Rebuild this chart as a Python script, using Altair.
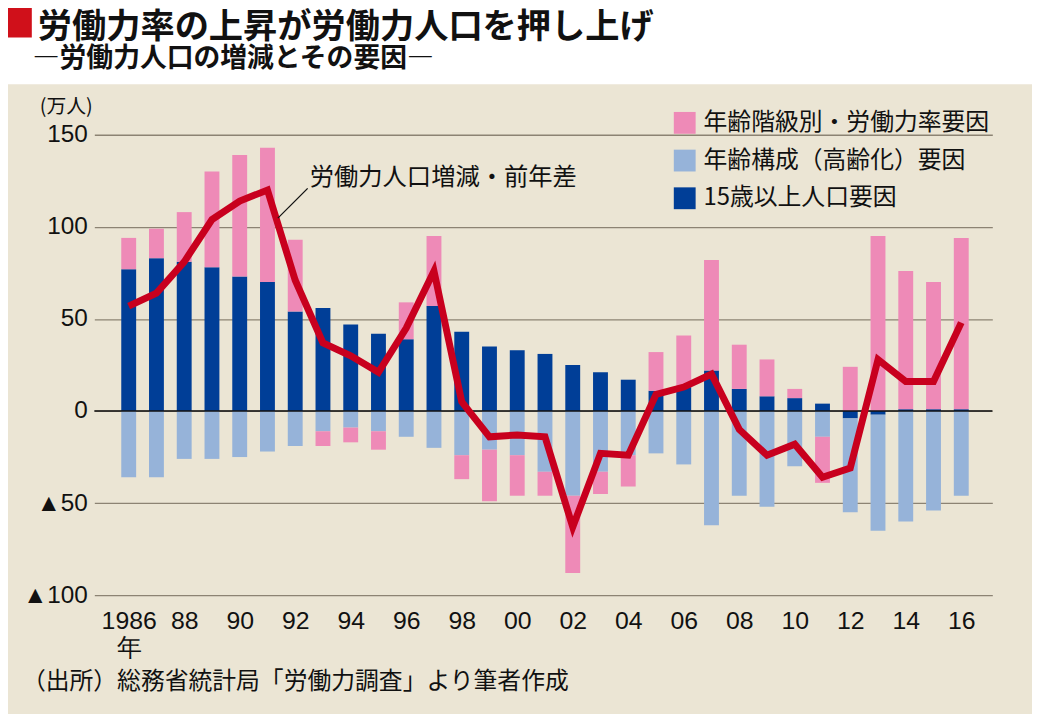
import altair as alt
import pandas as pd

years = list(range(1986, 2017))
# 15歳以上人口要因 (dark blue)
pop15 = [77, 83, 81, 78, 73, 70, 54, 56, 47, 42,
         39, 57, 43, 35, 33, 31, 25, 21, 17, 11,
         13, 22, 12, 8, 7, 4, -4, -2, 1, 1, 1]
# 年齢構成（高齢化）要因 (light blue)
agecomp = [-36, -36, -26, -26, -25, -22, -19, -11, -9, -11,
           -14, -20, -24, -21, -24, -33, -46, -33, -24, -23,
           -29, -62, -46, -52, -30, -14, -51, -63, -60, -54, -46]
# 年齢階級別・労働力率要因 (pink)
rate = [17, 16, 27, 52, 66, 73, 39, -8, -8, -10,
        20, 38, -13, -28, -22, -13, -42, -12, -17, 21,
        28, 60, 24, 20, 5, -25, 24, 95, 75, 69, 93]
# 労働力人口増減・前年差 (line)
total = [57, 64, 81, 104, 114, 120, 71, 37, 30, 21,
         45, 76, 5, -14, -13, -14, -63, -23, -24, 9,
         13, 20, -10, -24, -18, -36, -31, 28, 16, 16, 48]

labels = ["年齢階級別・労働力率要因", "年齢構成（高齢化）要因", "15歳以上人口要因"]
colors = ["#ee8ab7", "#96b3d9", "#003e97"]
y_ticks = [-100, -50, 0, 50, 100, 150]
x_ticks = list(range(1986, 2017, 2))

title_text = "労働力率の上昇が労働力人口を押し上げ"
subtitle_text = "―労働力人口の増減とその要因―"
unit_text = "(万人)"
source_text = "（出所）総務省統計局「労働力調査」より筆者作成"
line_label = "労働力人口増減・前年差"

rows = []
for i, yr in enumerate(years):
    rows.append({"year": yr, "factor": labels[2], "value": pop15[i], "ord": 0})
    rows.append({"year": yr, "factor": labels[1], "value": agecomp[i], "ord": 1})
    rows.append({"year": yr, "factor": labels[0], "value": rate[i], "ord": 2})
bars_df = pd.DataFrame(rows)
line_df = pd.DataFrame({"year": years, "total": total})

JP = "Noto Sans CJK JP"
NUM = "Liberation Sans"

xscale = alt.Scale(domain=[1984.94, 2016.94], nice=False, zero=False)
yscale = alt.Scale(domain=[-100, 150], nice=False)

one = alt.Data(values=[{}])

white_band = alt.Chart(one).mark_rect(color="white").encode(
    x=alt.value(-95), x2=alt.value(950), y=alt.value(-140), y2=alt.value(-51))
red_sq = alt.Chart(one).mark_rect(color="#d0101a").encode(
    x=alt.value(-95), x2=alt.value(-63), y=alt.value(-140), y2=alt.value(-98))

bars = alt.Chart(bars_df).mark_bar(size=15).encode(
    x=alt.X("year:Q", scale=xscale,
            axis=alt.Axis(values=x_ticks, title=None, grid=False, domain=False, ticks=False,
                          labelFont=NUM, labelFontSize=25, labelColor="#111111",
                          labelPadding=14, labelLineHeight=27, labelFlush=False,
                          labelExpr="datum.value == 1986 ? ['1986', '年'] : substring(toString(datum.value), 2, 4)")),
    y=alt.Y("value:Q", scale=yscale, stack="zero",
            axis=alt.Axis(values=y_ticks, title=None, domain=False, ticks=False,
                          grid=True, gridColor="#8c8373", gridWidth=1.3,
                          labelFont=NUM, labelFontSize=24.5, labelColor="#111111",
                          labelPadding=7,
                          labelExpr="datum.value < 0 ? '▲' + abs(datum.value) : '' + datum.value")),
    color=alt.Color("factor:N",
                    scale=alt.Scale(domain=labels, range=colors),
                    legend=alt.Legend(title=None, orient="none", legendX=583, legendY=-24,
                                      symbolType="square", symbolSize=484, symbolStrokeWidth=0,
                                      labelFont=JP, labelFontSize=24, labelColor="#111111",
                                      labelOffset=7, rowPadding=14, padding=0,
                                      labelLimit=400)),
    order=alt.Order("ord:Q"),
)

zero_rule = alt.Chart(pd.DataFrame({"v": [0]})).mark_rule(color="#111111", strokeWidth=1.3).encode(
    y=alt.Y("v:Q", scale=yscale))

line = alt.Chart(line_df).mark_line(color="#c8001e", strokeWidth=7, strokeJoin="miter").encode(
    x=alt.X("year:Q", scale=xscale),
    y=alt.Y("total:Q", scale=yscale),
)

leader = alt.Chart(one).mark_rule(color="#111111", strokeWidth=1.3).encode(
    x=alt.value(185), y=alt.value(84), x2=alt.value(215), y2=alt.value(54))

def txt(s, px, py, size, weight="normal", font=JP, align="left"):
    return alt.Chart(one).mark_text(text=s, font=font, fontSize=size, fontWeight=weight,
                                    align=align, baseline="middle", color="#111111").encode(
        x=alt.value(px), y=alt.value(py))

title = txt(title_text, -57, -107.5, 34.5, "bold")
subtitle = txt(subtitle_text, -62, -76, 27, "bold")
unit = txt(unit_text, -55, -28, 20)
source = txt(source_text, -73, 552, 24)
line_txt = txt(line_label, 217, 44, 24.5)

chart = alt.layer(
    white_band, red_sq, bars, zero_rule, line, leader,
    title, subtitle, unit, source, line_txt
).properties(
    width=905, height=464,
    padding={"left": 87, "top": 125, "right": 40, "bottom": 117},
    autosize=alt.AutoSizeParams(type="none"),
).configure(background="#ebe5d4").configure_view(strokeWidth=0)

chart.save("out.html", embed_options={"renderer": "svg", "actions": False})
